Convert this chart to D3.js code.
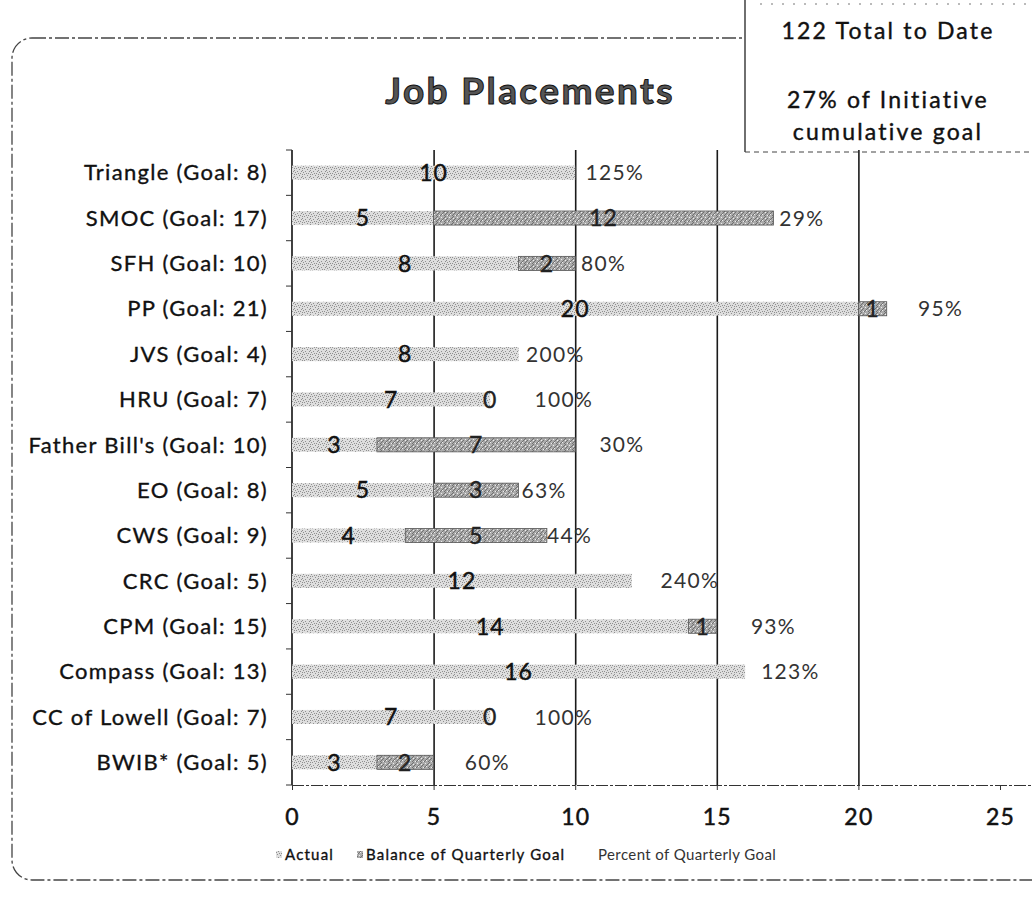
<!DOCTYPE html>
<html>
<head>
<meta charset="utf-8">
<script src="https://cdn.jsdelivr.net/npm/d3@7"></script>
<style>
  html, body { margin: 0; padding: 0; background: #fff; }
  svg { display: block; }
  text { font-family: Lato, "Open Sans", sans-serif; }
</style>
</head>
<body>
<div id="chart"></div>
<script>
// chart data
const categories = ['Triangle', 'SMOC', 'SFH', 'PP', 'JVS', 'HRU', "Father Bill's",
  'EO', 'CWS', 'CRC', 'CPM', 'Compass', 'CC of Lowell', 'BWIB*'];
const goals = [8, 17, 10, 21, 4, 7, 10, 8, 9, 5, 15, 13, 7, 5];
const actual = [10, 5, 8, 20, 8, 7, 3, 5, 4, 12, 14, 16, 7, 3];
// invisible third series that carries the percent labels
const pctSpacer = [2.8, 2.0, 2.0, 3.8, 2.6, 5.2, 3.3, 1.8, 1.6, 4.1, 4.0, 3.2, 5.2, 3.8];
const xTicks = [0, 5, 10, 15, 20, 25];
const seriesNames = ['Actual', 'Balance of Quarterly Goal', 'Percent of Quarterly Goal'];
const boxLines = ['122 Total to Date', '27% of Initiative', 'cumulative goal'];

const W = 1032, H = 900;
const plot = { left: 292, right: 1000, top: 150, bottom: 785 };

const rows = categories.map((name, i) => {
  const balance = Math.max(goals[i] - actual[i], 0);
  return {
    name,
    label: `${name} (Goal: ${goals[i]})`,
    actual: actual[i],
    goal: goals[i],
    balance,
    showBalance: goals[i] >= actual[i],
    pct: Math.round(actual[i] / goals[i] * 100) + '%',
    spacer: pctSpacer[i]
  };
});

const svg = d3.select('#chart').append('svg')
  .attr('width', W)
  .attr('height', H);

// scanned-looking fills
const defs = svg.append('defs');
const pActual = defs.append('pattern')
  .attr('id', 'pat-actual')
  .attr('patternUnits', 'userSpaceOnUse')
  .attr('width', 8).attr('height', 6);
pActual.append('rect').attr('width', 8).attr('height', 6).attr('fill', '#dedede');
[[0, 0], [3, 1], [6, 0], [1, 3], [5, 3], [2, 5], [7, 4], [4, 5], [6, 2]].forEach(([px, py]) => {
  pActual.append('rect').attr('x', px).attr('y', py).attr('width', 1).attr('height', 1).attr('fill', '#8f8f8f');
});

const pBal = defs.append('pattern')
  .attr('id', 'pat-balance')
  .attr('patternUnits', 'userSpaceOnUse')
  .attr('width', 8).attr('height', 6);
pBal.append('rect').attr('width', 8).attr('height', 6).attr('fill', '#ababab');
pBal.append('path').attr('d', 'M0,6 L6,0 M4,6 L10,0').attr('stroke', '#707070').attr('stroke-width', 1);
[[1, 1], [5, 2], [2, 4], [7, 5]].forEach(([px, py]) => {
  pBal.append('rect').attr('x', px).attr('y', py).attr('width', 1).attr('height', 1).attr('fill', '#eee');
});

// outer frame
svg.append('rect')
  .attr('x', 12).attr('y', 38)
  .attr('width', 1040).attr('height', 842)
  .attr('rx', 20)
  .attr('fill', 'none')
  .attr('stroke', '#444')
  .attr('stroke-width', 1.3)
  .attr('stroke-dasharray', '14 3 3 3');

// text box in the top right corner
const box = svg.append('g');
box.append('rect')
  .attr('x', 745).attr('y', 0)
  .attr('width', 300).attr('height', 152)
  .attr('fill', '#fff');
box.append('line')
  .attr('x1', 745).attr('x2', 745).attr('y1', 0).attr('y2', 152)
  .attr('stroke', '#222').attr('stroke-width', 1.3);
box.append('line')
  .attr('x1', 745).attr('x2', W).attr('y1', 152).attr('y2', 152)
  .attr('stroke', '#444').attr('stroke-width', 1).attr('stroke-dasharray', '5 4');
box.append('line')
  .attr('x1', 760).attr('x2', W).attr('y1', 4).attr('y2', 4)
  .attr('stroke', '#777').attr('stroke-width', 1).attr('stroke-dasharray', '2 9');
box.selectAll('text.box-line')
  .data(boxLines)
  .join('text')
  .attr('class', 'box-line')
  .attr('x', 888)
  .attr('y', (d, i) => [39, 108, 140][i])
  .attr('text-anchor', 'middle')
  .attr('font-size', 23)
  .attr('letter-spacing', 2.2)
  .attr('fill', '#111')
  .attr('stroke', '#111')
  .attr('stroke-width', 0.4)
  .text(d => d);

// title
svg.append('text')
  .attr('x', 530).attr('y', 104)
  .attr('text-anchor', 'middle')
  .attr('font-size', 37)
  .attr('font-weight', 700)
  .attr('letter-spacing', 2.4)
  .attr('fill', '#555')
  .attr('stroke', '#111')
  .attr('stroke-width', 1)
  .text('Job Placements');

const x = d3.scaleLinear().domain([0, 25]).range([plot.left, plot.right]);
const y = d3.scaleBand()
  .domain(categories)
  .range([plot.top, plot.bottom])
  .paddingInner(0.69)
  .paddingOuter(0.345);

// vertical gridlines
svg.append('g')
  .attr('transform', `translate(0,${plot.bottom})`)
  .call(d3.axisBottom(x)
    .tickValues(xTicks.filter(t => t > 0 && t < 25))
    .tickSize(-(plot.bottom - plot.top))
    .tickFormat(''))
  .call(g => g.select('.domain').remove())
  .call(g => g.selectAll('.tick line')
    .attr('stroke', '#1a1a1a')
    .attr('stroke-width', 1.6));

// x axis
svg.append('g')
  .attr('transform', `translate(0,${plot.bottom})`)
  .call(d3.axisBottom(x).tickValues(xTicks).tickSize(5).tickPadding(19))
  .call(g => g.select('.domain')
    .attr('d', `M${plot.left},0.5H${W}`)
    .attr('stroke', '#333')
    .attr('stroke-dasharray', '12 2 3 2'))
  .call(g => g.selectAll('.tick line').attr('stroke', '#333'))
  .call(g => g.selectAll('.tick text')
    .attr('font-family', 'Lato, sans-serif')
    .attr('font-size', 23)
    .attr('letter-spacing', 1.2)
    .attr('fill', '#111')
    .attr('stroke', '#111')
    .attr('stroke-width', 0.5));

// y axis line with ticks between categories
const yAxis = svg.append('g');
yAxis.append('line')
  .attr('x1', plot.left).attr('x2', plot.left)
  .attr('y1', plot.top).attr('y2', plot.bottom)
  .attr('stroke', '#111').attr('stroke-width', 1.6);
yAxis.selectAll('line.ytick')
  .data(d3.range(categories.length + 1))
  .join('line')
  .attr('class', 'ytick')
  .attr('x1', plot.left - 6).attr('x2', plot.left)
  .attr('y1', i => y.range()[0] + i * y.step())
  .attr('y2', i => y.range()[0] + i * y.step())
  .attr('stroke', '#333');
yAxis.selectAll('text.ylabel')
  .data(rows)
  .join('text')
  .attr('class', 'ylabel')
  .attr('x', plot.left - 24)
  .attr('y', d => y(d.name) + y.bandwidth() / 2)
  .attr('dy', '0.35em')
  .attr('text-anchor', 'end')
  .attr('font-size', 22)
  .attr('letter-spacing', 1.3)
  .attr('fill', '#111')
  .attr('stroke', '#111')
  .attr('stroke-width', 0.35)
  .text(d => d.label);

// bars
const bars = svg.append('g');
bars.selectAll('rect.actual')
  .data(rows)
  .join('rect')
  .attr('class', 'actual')
  .attr('x', x(0))
  .attr('y', d => y(d.name))
  .attr('width', d => x(d.actual) - x(0))
  .attr('height', y.bandwidth())
  .attr('fill', 'url(#pat-actual)');

bars.selectAll('rect.balance')
  .data(rows.filter(d => d.balance > 0))
  .join('rect')
  .attr('class', 'balance')
  .attr('x', d => x(d.actual))
  .attr('y', d => y(d.name))
  .attr('width', d => x(d.actual + d.balance) - x(d.actual))
  .attr('height', y.bandwidth())
  .attr('fill', 'url(#pat-balance)')
  .attr('stroke', '#555')
  .attr('stroke-width', 0.8);

// value labels
const labels = svg.append('g')
  .attr('font-size', 23)
  .attr('text-anchor', 'middle');

labels.selectAll('text.v-actual')
  .data(rows)
  .join('text')
  .attr('class', 'v-actual')
  .attr('x', d => x(d.actual / 2))
  .attr('y', d => y(d.name) + y.bandwidth() / 2)
  .attr('dy', '0.36em')
  .attr('letter-spacing', 1)
  .attr('fill', '#111')
  .attr('stroke', '#111')
  .attr('stroke-width', 0.45)
  .text(d => d.actual);

labels.selectAll('text.v-balance')
  .data(rows.filter(d => d.showBalance))
  .join('text')
  .attr('class', 'v-balance')
  .attr('x', d => x(d.actual + d.balance / 2))
  .attr('y', d => y(d.name) + y.bandwidth() / 2)
  .attr('dy', '0.36em')
  .attr('letter-spacing', 1)
  .attr('fill', '#222')
  .attr('stroke', '#222')
  .attr('stroke-width', 0.35)
  .text(d => d.balance);

labels.selectAll('text.v-pct')
  .data(rows)
  .join('text')
  .attr('class', 'v-pct')
  .attr('x', d => x(d.actual + d.balance + d.spacer / 2))
  .attr('y', d => y(d.name) + y.bandwidth() / 2)
  .attr('dy', '0.36em')
  .attr('font-family', '"Open Sans", sans-serif')
  .attr('font-size', 21)
  .attr('letter-spacing', 1.3)
  .attr('fill', '#333')
  .text(d => d.pct);

// legend
const legendY = 860;
const legendItems = [
  { name: seriesNames[0], x: 285, fill: 'url(#pat-actual)', bold: true },
  { name: seriesNames[1], x: 366, fill: 'url(#pat-balance)', bold: true },
  { name: seriesNames[2], x: 598, fill: 'none', bold: false }
];
const legend = svg.append('g');
const item = legend.selectAll('g')
  .data(legendItems)
  .join('g')
  .attr('transform', d => `translate(${d.x},${legendY})`);
item.append('rect')
  .attr('x', -9).attr('y', -9)
  .attr('width', 6).attr('height', 7)
  .attr('fill', d => d.fill);
item.append('text')
  .attr('font-size', d => d.bold ? 15 : 15)
  .attr('letter-spacing', d => d.bold ? 1.2 : 0.4)
  .attr('fill', d => d.bold ? '#111' : '#333')
  .attr('stroke', d => d.bold ? '#111' : 'none')
  .attr('stroke-width', 0.35)
  .text(d => d.name);
</script>
</body>
</html>
